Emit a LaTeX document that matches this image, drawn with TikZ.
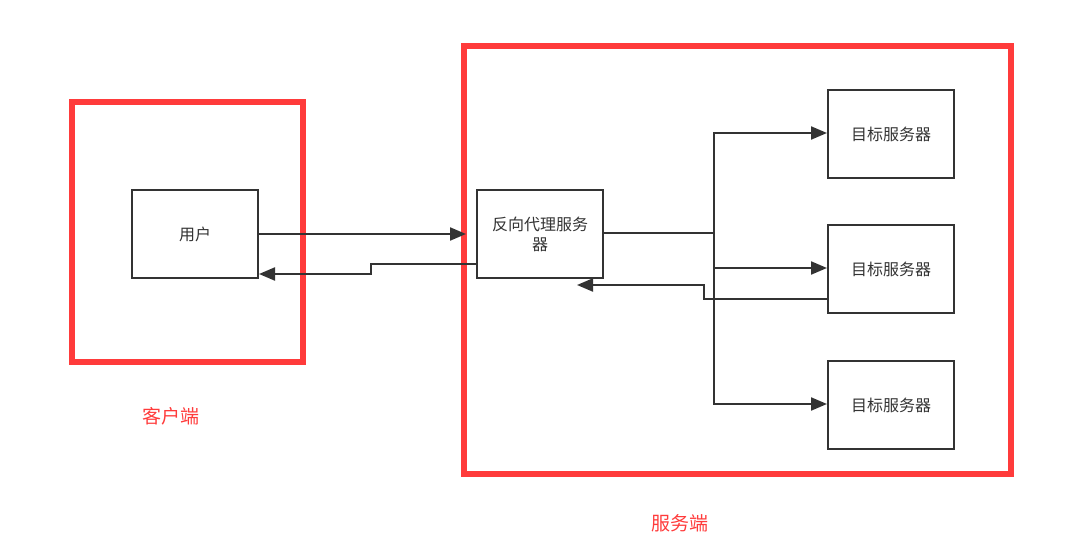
\documentclass[tikz,border=0pt]{standalone}
\usepackage{fontspec}
\newfontfamily\cjk{Noto Sans CJK SC}
\usetikzlibrary{arrows.meta}
\definecolor{ink}{HTML}{333333}
\definecolor{redline}{HTML}{FF3B3B}
\tikzset{
  box/.style={draw=ink, line width=2.2pt, minimum width=126pt, minimum height=88pt, inner sep=0pt, font=\cjk\fontsize{16}{20}\selectfont, text=ink, align=center, anchor=north west},
  zone/.style={draw=redline, line width=6pt},
  conn/.style={draw=ink, line width=2.2pt, -{Triangle[length=16pt,width=13pt]}},
  plainconn/.style={draw=ink, line width=2.2pt},
  zonelabel/.style={text=redline, font=\cjk\fontsize{19}{22}\selectfont},
}
\begin{document}
\begin{tikzpicture}[x=1pt,y=-1pt]
\useasboundingbox (0,0) rectangle (1092,545);
% zones
\draw[zone] (72,102) rectangle (303,362);
\draw[zone] (464,46) rectangle (1011,474);
\node[zonelabel] (lclient) at (171,416) {客户端};
\node[zonelabel] (lserver) at (680,523) {服务端};
% boxes
\node[box] (user) at (131,189) {用户};
\node[box] (proxy) at (476,189) {反向代理服务\\器};
\node[box] (t1) at (827,89) {目标服务器};
\node[box] (t2) at (827,224) {目标服务器};
\node[box] (t3) at (827,360) {目标服务器};
% coordinates
\coordinate (uo) at (user.east |- 0,234);
\coordinate (pin) at (466,234);
\coordinate (po) at (proxy.west |- 0,264);
\coordinate (uin) at (259,274);
\coordinate (pr) at (proxy.east |- 0,233);
\coordinate (jn) at (714,233);
\coordinate (t2o) at (t2.west |- 0,299);
\coordinate (pin2) at (577,285);
% connectors
\draw[conn] (uo) -- (pin);
\draw[conn] (po) -- (371,264) -- (371,274) -- (uin);
\draw[plainconn] (pr) -- (jn);
\draw[conn] (jn) -- (714,133) -- (t1.west |- 0,133);
\draw[conn] (jn) -- (714,268) -- (t2.west |- 0,268);
\draw[conn] (jn) -- (714,404) -- (t3.west |- 0,404);
\draw[conn] (t2o) -- (704,299) -- (704,285) -- (pin2);
\end{tikzpicture}
\end{document}
